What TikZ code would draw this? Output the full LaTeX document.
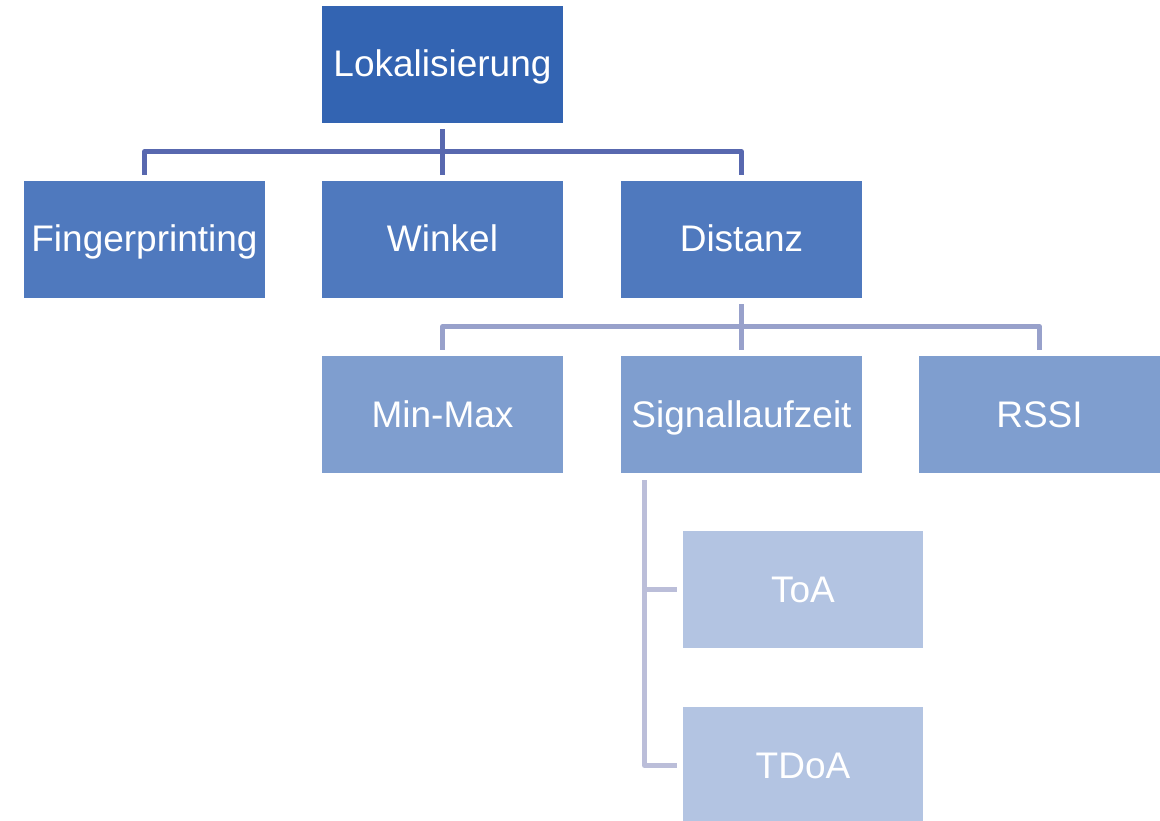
\documentclass[tikz,border=0pt]{standalone}
\usepackage{fontspec}
\setmainfont{Liberation Sans}
\definecolor{lvA}{RGB}{51,100,178}
\definecolor{lvB}{RGB}{79,121,190}
\definecolor{lvC}{RGB}{127,158,207}
\definecolor{lvD}{RGB}{179,196,226}
\definecolor{lnA}{RGB}{88,104,175}
\definecolor{lnB}{RGB}{152,161,203}
\definecolor{lnC}{RGB}{187,190,217}
\tikzset{
  box/.style={rectangle, inner sep=0pt, minimum width=241pt, minimum height=117pt,
    text=white, font=\fontsize{37}{40}\selectfont, text height=26pt, text depth=1pt},
  boxA/.style={box, fill=lvA},
  boxB/.style={box, fill=lvB},
  boxC/.style={box, fill=lvC},
  boxD/.style={box, fill=lvD},
  link/.style={line width=5pt, line join=round},
  linkA/.style={link, draw=lnA},
  linkB/.style={link, draw=lnB},
  linkC/.style={link, draw=lnC},
}
\begin{document}
\begin{tikzpicture}[x=1pt, y=-1pt]
\useasboundingbox (0,0) rectangle (1160,821);
\fill[white] (0,0) rectangle (1160,821);
% root
\node[boxA] (lok) at (442.5,64.5) {Lokalisierung};
% second level
\node[boxB] (fin) at (144.5,239.5) {Fingerprinting};
\node[boxB] (win) at (442.5,239.5) {Winkel};
\node[boxB] (dis) at (741.5,239.5) {Distanz};
% third level
\node[boxC] (min) at (442.5,414.5) {Min-Max};
\node[boxC] (sig) at (741.5,414.5) {Signallaufzeit};
\node[boxC] (rss) at (1039.5,414.5) {RSSI};
% fourth level
\node[boxD, minimum width=240pt] (toa) at (803,589.5) {ToA};
\node[boxD, minimum width=240pt] (tdo) at (803,765.5) {TDoA};
% root connectors
\draw[linkA] ([yshift=-6pt]lok.south) -- ([yshift=6pt]win.north);
\draw[linkA] ([yshift=6pt]fin.north) -- ++(0,-23) -| ([yshift=6pt]dis.north);
% Distanz connectors
\draw[linkB] ([yshift=-6pt]dis.south) -- ([yshift=6pt]sig.north);
\draw[linkB] ([yshift=6pt]min.north) -- ++(0,-23) -| ([yshift=6pt]rss.north);
% Signallaufzeit connectors
\coordinate (sigtop) at ([xshift=-97pt,yshift=-7pt]sig.south);
\draw[linkC] (sigtop) |- ([xshift=-6pt]tdo.west);
\draw[linkC] ([xshift=-6pt]toa.west) -- (sigtop |- toa.west);
\end{tikzpicture}
\end{document}
